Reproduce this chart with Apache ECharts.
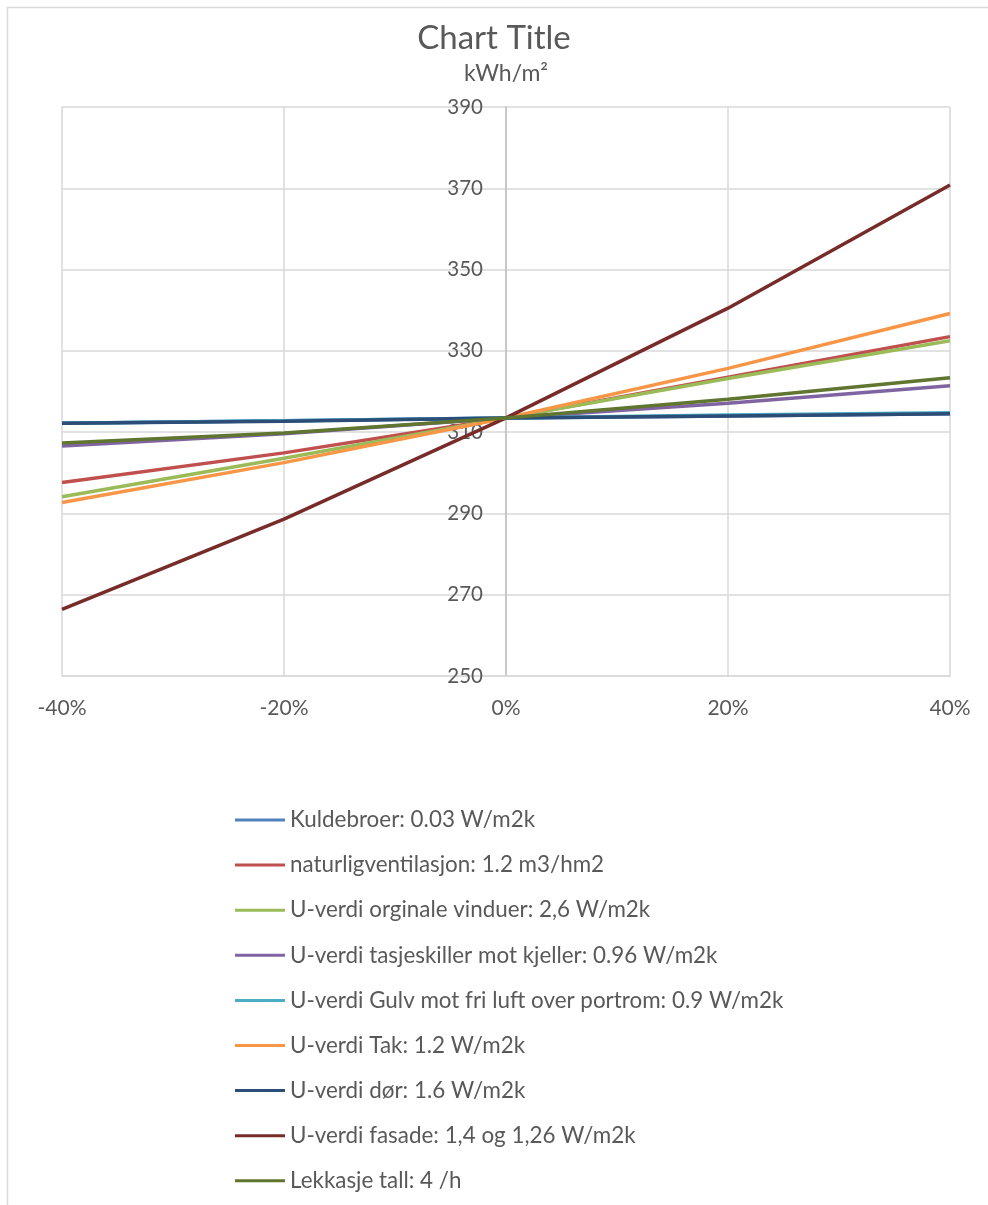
<!DOCTYPE html>
<html>
<head>
<meta charset="utf-8">
<script src="https://cdn.jsdelivr.net/npm/echarts@6/dist/echarts.min.js"></script>
<style>
  html, body { margin: 0; padding: 0; background: #fff; }
  #chart { width: 988px; height: 1205px; }
</style>
</head>
<body>
<div id="chart"></div>
<script>
// Relative change of each parameter (x) and resulting energy use in kWh/m2 (y)
const steps = [-0.4, -0.2, 0, 0.2, 0.4];

const seriesNames = [
  'Kuldebroer: 0.03 W/m2k',
  'naturligventilasjon: 1.2 m3/hm2',
  'U-verdi orginale vinduer: 2,6 W/m2k',
  'U-verdi tasjeskiller mot kjeller: 0.96 W/m2k',
  'U-verdi Gulv mot fri luft over portrom: 0.9 W/m2k',
  'U-verdi Tak: 1.2 W/m2k',
  'U-verdi dør: 1.6 W/m2k',
  'U-verdi fasade: 1,4 og 1,26 W/m2k',
  'Lekkasje tall: 4 /h'
];

const kuldebroer   = [312.2, 312.8, 313.5, 314.0, 314.5];
const ventilasjon  = [297.6, 304.9, 313.5, 323.5, 333.5];
const vinduer      = [294.1, 303.6, 313.5, 323.2, 332.5];
const tasjeskiller = [306.6, 309.6, 313.5, 317.1, 321.4];
const gulv         = [312.2, 312.8, 313.5, 314.2, 314.8];
const tak          = [292.7, 302.5, 313.5, 325.7, 339.2];
const dor          = [312.2, 312.7, 313.5, 314.0, 314.5];
const fasade       = [266.4, 288.6, 313.5, 340.5, 370.8];
const lekkasje     = [307.3, 309.8, 313.5, 318.1, 323.4];

const seriesValues = [kuldebroer, ventilasjon, vinduer, tasjeskiller, gulv, tak, dor, fasade, lekkasje];

const colors = ['#4F81BD', '#C0504D', '#9BBB59', '#8064A2', '#4BACC6', '#F79646', '#2C4D75', '#772C2A', '#5F7530'];

const FONT = 'Lato, "Open Sans", sans-serif';
const TEXT = '#595959';

const GRID_LEFT = 62, GRID_RIGHT = 38;
const chartWidth = 988;
// the value axis is drawn where x = 0, halfway across the plot
const yAxisShift = (chartWidth - GRID_LEFT - GRID_RIGHT) / 2;

const chart = echarts.init(document.getElementById('chart'));

chart.setOption({
  animation: false,
  color: colors,
  title: {
    text: 'Chart Title',
    left: 'center',
    top: 17,
    textStyle: { fontFamily: FONT, fontSize: 33, fontWeight: 'normal', color: TEXT }
  },
  graphic: [{
    type: 'rect',
    shape: { x: 7.5, y: 7.5, width: 1000, height: 1300 },
    style: { fill: 'none', stroke: '#d9d9d9', lineWidth: 1.5 },
    silent: true
  }],
  legend: {
    orient: 'vertical',
    left: 235,
    top: 809,
    padding: 0,
    itemWidth: 50,
    itemHeight: 3,
    itemGap: 23.1,
    icon: 'rect',
    textStyle: { fontFamily: FONT, fontSize: 22.4, color: TEXT, padding: [0, 0, 0, 0] },
    data: seriesNames
  },
  grid: { left: GRID_LEFT, right: GRID_RIGHT, top: 107, bottom: 529, containLabel: false },
  xAxis: {
    type: 'value',
    min: -0.4,
    max: 0.4,
    interval: 0.2,
    axisLine: { onZero: false, lineStyle: { color: '#d9d9d9', width: 1.5 } },
    axisTick: { show: false },
    splitLine: { show: true, lineStyle: { color: '#d9d9d9', width: 1.5 } },
    axisLabel: {
      fontFamily: FONT, fontSize: 21, color: TEXT, margin: 22,
      formatter: v => Math.round(v * 100) + '%'
    }
  },
  yAxis: {
    type: 'value',
    min: 250,
    max: 390,
    interval: 20,
    offset: -yAxisShift,
    name: 'kWh/m²',
    nameLocation: 'end',
    nameGap: 22,
    nameTextStyle: { fontFamily: FONT, fontSize: 23, color: TEXT, align: 'center' },
    axisLine: { show: true, onZero: false, lineStyle: { color: '#bfbfbf', width: 1.5 } },
    axisTick: { show: false },
    splitLine: { show: true, lineStyle: { color: '#d9d9d9', width: 1.5 } },
    axisLabel: { fontFamily: FONT, fontSize: 20.5, color: TEXT, margin: 23 }
  },
  series: seriesNames.map((name, i) => ({
    name,
    type: 'line',
    symbol: 'none',
    data: steps.map((x, j) => [x, seriesValues[i][j]]),
    lineStyle: { width: 3.5, color: colors[i] },
    itemStyle: { color: colors[i] }
  }))
});
</script>
</body>
</html>
